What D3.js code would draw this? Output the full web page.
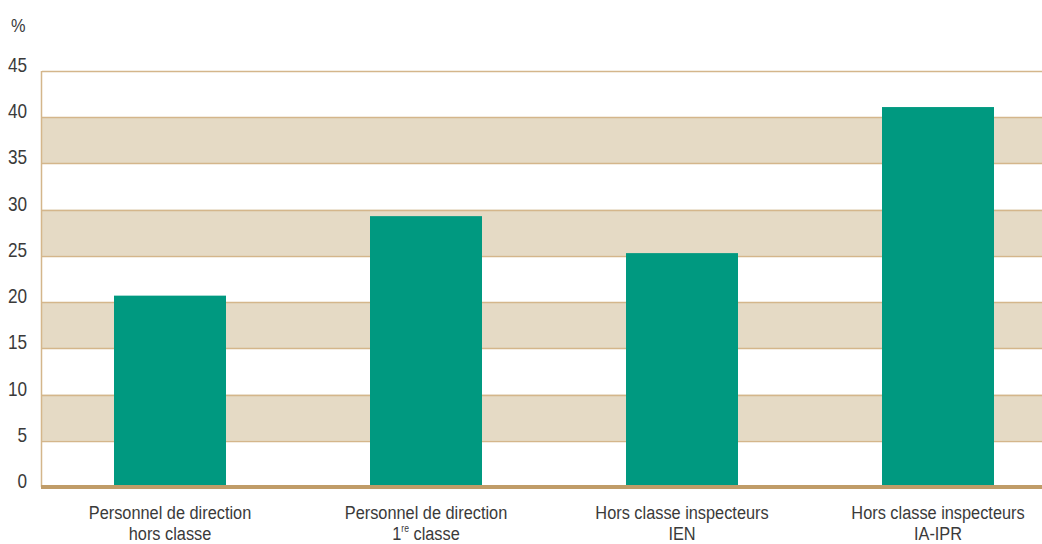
<!DOCTYPE html>
<html>
<head>
<meta charset="utf-8">
<script src="https://cdn.jsdelivr.net/npm/d3@7/dist/d3.min.js"></script>
<style>
  html, body { margin: 0; padding: 0; background: #ffffff; }
  svg { display: block; }
  text { font-family: "Liberation Sans", Arial, sans-serif; fill: #3a3a3a; }
</style>
</head>
<body>
<svg id="chart" width="1042" height="544"></svg>
<script>
const categories = ["Personnel de direction|hors classe", "Personnel de direction|1re classe", "Hors classe inspecteurs|IEN", "Hors classe inspecteurs|IA-IPR"];
const values = [20.7, 29.3, 25.3, 41.1];
const yTicks = [0, 5, 10, 15, 20, 25, 30, 35, 40, 45];
const yUnit = "%";

(function () {
const svg = d3.select("#chart");
const W = 1042;
const mLeft = 42, mRight = 1066, mTop = 71, mBottom = 487;
const sx = 0.86; // horizontal condensing of the text

const x = d3.scaleBand().domain(categories).range([mLeft, mRight]).paddingInner(0.5625).paddingOuter(0.28125);
const y = d3.scaleLinear().domain([0, 45]).range([mBottom, mTop]);

// bands
const bandPairs = [];
for (let i = 0; i < yTicks.length - 1; i++) {
  if (i % 2 === 1) bandPairs.push([yTicks[i], yTicks[i + 1]]);
}
svg.append("g").selectAll("rect").data(bandPairs).join("rect")
  .attr("x", mLeft).attr("width", W - mLeft)
  .attr("y", d => y(d[1])).attr("height", d => y(d[0]) - y(d[1]))
  .attr("fill", "#e5dac5");

// grid lines
svg.append("g").selectAll("line").data(yTicks.filter(t => t > 0)).join("line")
  .attr("x1", mLeft).attr("x2", W)
  .attr("y1", d => Math.round(y(d)) + 0.5).attr("y2", d => Math.round(y(d)) + 0.5)
  .attr("stroke", "#d4b68b").attr("stroke-width", 1.3);

// left axis line
svg.append("line").attr("x1", mLeft - 0.5).attr("x2", mLeft - 0.5)
  .attr("y1", y(45)).attr("y2", y(0))
  .attr("stroke", "#d4b68b").attr("stroke-width", 1.5);

// bars
svg.append("g").selectAll("rect").data(values).join("rect")
  .attr("x", (d, i) => x(categories[i]))
  .attr("width", x.bandwidth())
  .attr("y", d => y(d))
  .attr("height", d => y(0) - y(d))
  .attr("fill", "#009980");

// baseline
svg.append("line").attr("x1", mLeft - 1).attr("x2", W)
  .attr("y1", y(0)).attr("y2", y(0))
  .attr("stroke", "#c09c68").attr("stroke-width", 4);

// y tick labels
svg.append("g").selectAll("g").data(yTicks).join("g")
  .attr("transform", d => `translate(27,${y(d) + 1}) scale(${sx},1)`)
  .append("text")
  .attr("text-anchor", "end")
  .attr("font-size", 20)
  .text(d => d);

svg.append("g").attr("transform", `translate(11,32) scale(${sx},1)`)
  .append("text").attr("font-size", 19).text(yUnit);

// category labels
const lab = svg.append("g").selectAll("g").data(categories).join("g")
  .attr("transform", d => `translate(${x(d) + x.bandwidth() / 2},0) scale(${sx},1)`);
lab.each(function (d) {
  const g = d3.select(this);
  const parts = d.split("|");
  g.append("text").attr("y", 519).attr("text-anchor", "middle").attr("font-size", 19).text(parts[0]);
  const t2 = g.append("text").attr("y", 540).attr("text-anchor", "middle").attr("font-size", 19);
  const m = parts[1].match(/^1re (.*)$/);
  if (m) {
    t2.append("tspan").text("1");
    t2.append("tspan").attr("font-size", 10).attr("dy", -8).text("re");
    t2.append("tspan").attr("dy", 8).text(" " + m[1]);
  } else {
    t2.text(parts[1]);
  }
});
})();
</script>
</body>
</html>
